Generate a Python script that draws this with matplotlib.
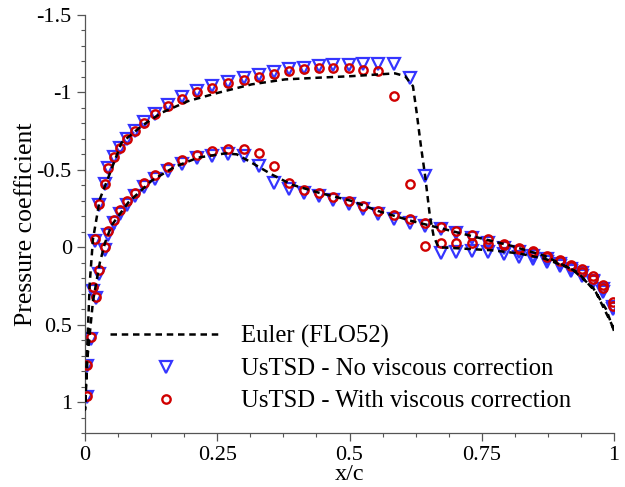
import matplotlib
matplotlib.use("Agg")
import matplotlib.pyplot as plt
from matplotlib.ticker import MultipleLocator, FuncFormatter

# ---- data ----
x_up = [0.003, 0.011, 0.015, 0.019, 0.026, 0.037, 0.044, 0.055, 0.066, 0.079,
        0.095, 0.112, 0.132, 0.156, 0.183, 0.211, 0.241, 0.271, 0.301, 0.329,
        0.358, 0.386, 0.414, 0.442, 0.469, 0.499, 0.526, 0.554, 0.585, 0.614,
        0.643, 0.673, 0.702, 0.732, 0.762, 0.793, 0.820, 0.847, 0.873, 0.897,
        0.919, 0.940, 0.960, 0.980, 0.998]
cp_up_visc = [0.96, 0.58, 0.26, -0.05, -0.28, -0.41, -0.51, -0.58, -0.64, -0.70,
              -0.75, -0.80, -0.86, -0.91, -0.96, -1.00, -1.03, -1.06, -1.08, -1.10,
              -1.12, -1.14, -1.15, -1.155, -1.16, -1.16, -1.145, -1.14, -0.975, -0.41,
              -0.01, -0.025, -0.03, -0.025, -0.02, -0.013, 0.013, 0.034, 0.06, 0.088,
              0.12, 0.16, 0.205, 0.265, 0.38]
cp_up_novisc = [0.97, 0.59, 0.28, -0.04, -0.27, -0.41, -0.51, -0.58, -0.64, -0.70,
                -0.75, -0.81, -0.86, -0.92, -0.97, -1.01, -1.04, -1.07, -1.09, -1.11,
                -1.13, -1.15, -1.16, -1.17, -1.175, -1.18, -1.185, -1.185, -1.185, -1.095,
                -0.46, 0.04, 0.03, 0.025, 0.034, 0.045, 0.066, 0.075, 0.097, 0.123,
                0.151, 0.183, 0.226, 0.29, 0.40]

x_lo = [0.004, 0.020, 0.027, 0.037, 0.044, 0.055, 0.066, 0.079, 0.095, 0.112,
        0.132, 0.156, 0.183, 0.211, 0.241, 0.271, 0.301, 0.329, 0.358, 0.386,
        0.414, 0.442, 0.469, 0.499, 0.526, 0.554, 0.585, 0.614, 0.643, 0.673,
        0.702, 0.732, 0.762, 0.793, 0.820, 0.847, 0.873, 0.897, 0.919, 0.940,
        0.960, 0.980, 0.998]
cp_lo_visc = [0.76, 0.32, 0.15, 0.0, -0.105, -0.176, -0.239, -0.299, -0.353, -0.413,
              -0.465, -0.518, -0.561, -0.594, -0.621, -0.637, -0.637, -0.611, -0.525, -0.413,
              -0.368, -0.353, -0.327, -0.299, -0.267, -0.234, -0.209, -0.181, -0.155, -0.131,
              -0.105, -0.077, -0.052, -0.019, 0.006, 0.024, 0.054, 0.080, 0.112, 0.138,
              0.185, 0.245, 0.357]
cp_lo_novisc = [0.77, 0.33, 0.17, 0.02, -0.08, -0.155, -0.215, -0.275, -0.33, -0.39,
                -0.44, -0.495, -0.54, -0.577, -0.589, -0.60, -0.589, -0.525, -0.417, -0.379,
                -0.353, -0.331, -0.305, -0.277, -0.245, -0.213, -0.181, -0.159, -0.138, -0.116,
                -0.090, -0.062, -0.030, 0.002, 0.034, 0.056, 0.077, 0.110, 0.138, 0.168,
                0.217, 0.271, 0.389]

x_eu_up = [0.0, 0.003, 0.009, 0.015, 0.028, 0.044, 0.069, 0.107, 0.145, 0.195,
           0.252, 0.315, 0.378, 0.441, 0.504, 0.586, 0.605, 0.620, 0.627, 0.635,
           0.643, 0.652, 0.659, 0.668, 0.72, 0.77, 0.82, 0.87, 0.92, 0.96,
           0.985, 1.0]
cp_eu_up = [1.05, 0.75, 0.23, -0.05, -0.31, -0.45, -0.675, -0.783, -0.869, -0.944,
            -0.998, -1.052, -1.084, -1.095, -1.105, -1.123, -1.105, -1.04, -0.869, -0.654,
            -0.46, -0.20, -0.073, 0.0, 0.01, 0.02, 0.04, 0.075, 0.14, 0.26,
            0.40, 0.54]
x_eu_lo = [0.0, 0.005, 0.015, 0.028, 0.038, 0.05, 0.082, 0.126, 0.17, 0.214,
           0.265, 0.287, 0.315, 0.353, 0.391, 0.441, 0.504, 0.554, 0.617, 0.68,
           0.743, 0.806, 0.869, 0.932, 0.966, 0.991, 1.0]
cp_eu_lo = [1.05, 0.7, 0.35, 0.1, -0.03, -0.14, -0.29, -0.43, -0.52, -0.579,
            -0.606, -0.6, -0.546, -0.47, -0.404, -0.353, -0.299, -0.234, -0.17, -0.116,
            -0.062, -0.009, 0.056, 0.163, 0.292, 0.465, 0.53]

labels = ["Euler (FLO52)", "UsTSD - No viscous correction", "UsTSD - With viscous correction"]
xlabel = "x/c"
ylabel = "Pressure coefficient"

# ---- style ----
plt.rcParams['font.family'] = ['Liberation Serif', 'DejaVu Serif']
plt.rcParams['axes.unicode_minus'] = False
blue = '#3535ff'
red = '#d00000'

fig = plt.figure(figsize=(6.25, 4.87), dpi=100)
ax = fig.add_axes([85/625, 1 - 433/487, 529/625, 418/487])

x_eu = x_eu_up[::-1] + x_eu_lo
cp_eu = cp_eu_up[::-1] + cp_eu_lo
l_eu, = ax.plot(x_eu, cp_eu, color='black', lw=1.8, ls=(0, (2.6, 1.9)), zorder=4)

l_nv, = ax.plot(x_up + x_lo, cp_up_novisc + cp_lo_novisc, ls='none', marker='v',
                ms=8.5, mfc='none', mec=blue, mew=1.6, zorder=2)
l_v, = ax.plot(x_up + x_lo, cp_up_visc + cp_lo_visc, ls='none', marker='o',
               ms=6.0, mfc='none', mec=red, mew=1.7, zorder=3)

ax.set_xlim(0, 1)
ax.set_ylim(1.2, -1.5)
ax.xaxis.set_major_locator(MultipleLocator(0.25))
ax.xaxis.set_minor_locator(MultipleLocator(0.0625))
ax.yaxis.set_major_locator(MultipleLocator(0.5))
ax.yaxis.set_minor_locator(MultipleLocator(0.1))
fmt = FuncFormatter(lambda v, p: '%g' % (0 if abs(v) < 1e-9 else v))
ax.xaxis.set_major_formatter(fmt)
ax.yaxis.set_major_formatter(fmt)
for s in ['top', 'right']:
    ax.spines[s].set_visible(False)
for s in ['left', 'bottom']:
    ax.spines[s].set_color('#555555')
    ax.spines[s].set_linewidth(0.9)
ax.tick_params(which='major', direction='out', length=6, width=0.9, color='#555555',
               labelsize=16, pad=3.5)
ax.tick_params(which='minor', direction='out', length=3, width=0.8, color='#555555')

ax.set_xlabel(xlabel, fontsize=17.5, labelpad=-1)
ax.set_ylabel(ylabel, fontsize=18.5, labelpad=0)

leg = ax.legend([l_eu, l_nv, l_v], labels, loc='upper left',
                bbox_to_anchor=(110/625, 1 - 325/487), bbox_transform=fig.transFigure,
                frameon=False, fontsize=17.8, handlelength=4.5, handletextpad=0.8,
                labelspacing=0.4, borderpad=0, borderaxespad=0, numpoints=1)

fig.savefig('out.png', dpi=100)
